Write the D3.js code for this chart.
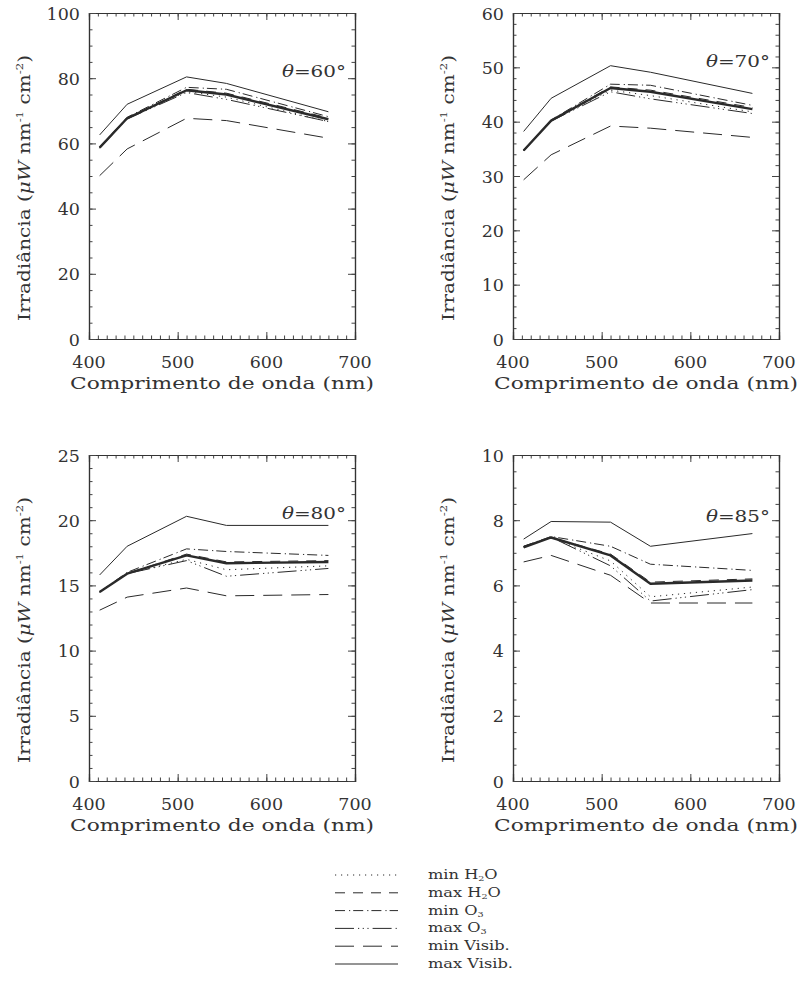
<!DOCTYPE html>
<html>
<head>
<meta charset="utf-8">
<script src="https://cdn.jsdelivr.net/npm/d3@7"></script>
<style>
  html, body { margin: 0; padding: 0; background: #fff; }
  svg { display: block; }
</style>
</head>
<body>
<svg id="chart" width="800" height="988" font-family="'DejaVu Serif', serif"></svg>
<script>
// Wavelengths (nm) and solar zenith angles
const wavelengths = [412, 443, 510, 555, 670];
const zenithAngles = [60, 70, 80, 85];

// Y axis extent and tick steps per panel
const yMaxima = [100, 60, 25, 10];
const yMajorSteps = [20, 10, 5, 2];
const yMinorSteps = [5, 2, 1, 0.5];
const xTickLabels = [400, 500, 600, 700];

// Irradiance (µW nm^-1 cm^-2), one row per zenith angle
const reference = [
  [58.7, 67.7, 76.3, 75.0, 67.4],
  [34.7, 40.2, 46.2, 45.5, 42.3],
  [14.5, 15.9, 17.3, 16.7, 16.8],
  [7.17, 7.47, 6.92, 6.05, 6.15]
];
const minH2O = [
  [58.7, 67.7, 75.9, 74.2, 66.7],
  [34.7, 40.2, 45.8, 44.8, 41.8],
  [14.5, 15.9, 17.0, 16.2, 16.5],
  [7.18, 7.46, 6.75, 5.65, 5.95]
];
const maxH2O = [
  [58.7, 67.7, 76.6, 75.4, 67.8],
  [34.7, 40.2, 46.4, 45.8, 42.6],
  [14.5, 15.9, 17.4, 16.8, 16.9],
  [7.18, 7.47, 6.96, 6.10, 6.20]
];
const minO3 = [
  [58.9, 68.0, 77.2, 76.6, 68.2],
  [34.8, 40.3, 46.9, 46.7, 43.0],
  [14.5, 16.0, 17.8, 17.6, 17.3],
  [7.20, 7.50, 7.20, 6.65, 6.46]
];
const maxO3 = [
  [58.5, 67.5, 75.6, 73.5, 66.7],
  [34.6, 40.1, 45.5, 44.2, 41.5],
  [14.5, 15.9, 16.9, 15.7, 16.3],
  [7.20, 7.48, 6.60, 5.52, 5.87]
];
const minVisib = [
  [50.1, 58.3, 67.7, 67.0, 61.6],
  [29.3, 33.9, 39.2, 38.8, 37.1],
  [13.1, 14.1, 14.8, 14.2, 14.3],
  [6.72, 6.92, 6.31, 5.46, 5.46]
];
const maxVisib = [
  [62.6, 72.0, 80.4, 78.4, 69.7],
  [38.2, 44.3, 50.3, 49.1, 45.2],
  [15.8, 18.0, 20.3, 19.6, 19.6],
  [7.42, 7.96, 7.94, 7.20, 7.59]
];

// Line styles for each scenario
const seriesDefs = [
  { key: "minH2O", values: minH2O, dash: "1.2,4.8", label: "min ", chem: ["H", "2", "O"] },
  { key: "maxH2O", values: maxH2O, dash: "10,8", label: "max ", chem: ["H", "2", "O"] },
  { key: "minO3", values: minO3, dash: "10,4,1.2,3", label: "min ", chem: ["O", "3", ""] },
  { key: "maxO3", values: maxO3, dash: "19,4,1.2,3.5,1.2,3.5,1.2,4", label: "max ", chem: ["O", "3", ""] },
  { key: "minVisib", values: minVisib, dash: "19,9", label: "min Visib.", chem: null },
  { key: "maxVisib", values: maxVisib, dash: null, label: "max Visib.", chem: null }
];

const svg = d3.select("#chart");
const ink = "#2a2a2a";
const textInk = "#333";
const serif = "'DejaVu Serif', serif";

const plotW = 266, plotH = 326;
const panelPos = [
  { x: 89, y: 13 }, { x: 513, y: 13 },
  { x: 89, y: 455 }, { x: 513, y: 455 }
];

const addText = (sel) => sel.append("text").attr("font-family", serif).attr("fill", textInk);
// Stretch a text horizontally by a factor, using its measured natural length
const widen = (t, factor) => {
  const n = t.node().getComputedTextLength();
  t.attr("textLength", n * factor).attr("lengthAdjust", "spacingAndGlyphs");
  return t;
};

zenithAngles.forEach((ang, i) => {
  const p = panelPos[i];
  const g = svg.append("g").attr("transform", `translate(${p.x},${p.y})`);
  const x = d3.scaleLinear().domain([400, 700]).range([0, plotW]);
  const y = d3.scaleLinear().domain([0, yMaxima[i]]).range([plotH, 0]);

  // Series lines
  const line = d3.line().x((d, k) => x(wavelengths[k])).y(d => y(d));
  seriesDefs.forEach(s => {
    g.append("path")
      .datum(s.values[i])
      .attr("d", line)
      .attr("fill", "none")
      .attr("stroke", ink)
      .attr("stroke-width", 1)
      .attr("stroke-dasharray", s.dash);
  });
  g.append("path")
    .datum(reference[i])
    .attr("d", line)
    .attr("fill", "none")
    .attr("stroke", ink)
    .attr("stroke-width", 2.4)
    .attr("stroke-linejoin", "round");

  // Frame with inward ticks on all four sides
  const xMinor = d3.range(400, 701, 10);
  const yMaj = d3.range(0, yMaxima[i] + 1e-9, yMajorSteps[i]);
  const yMin = d3.range(0, yMaxima[i] + 1e-9, yMinorSteps[i]);

  const axes = [
    [d3.axisBottom(x).tickValues(xMinor).tickSize(-3.5), `translate(0,${plotH})`],
    [d3.axisBottom(x).tickValues(xTickLabels).tickSize(-7), `translate(0,${plotH})`],
    [d3.axisTop(x).tickValues(xMinor).tickSize(-3.5), "translate(0,0)"],
    [d3.axisTop(x).tickValues(xTickLabels).tickSize(-7), "translate(0,0)"],
    [d3.axisLeft(y).tickValues(yMin).tickSize(-3.5), "translate(0,0)"],
    [d3.axisLeft(y).tickValues(yMaj).tickSize(-7), "translate(0,0)"],
    [d3.axisRight(y).tickValues(yMin).tickSize(-3.5), `translate(${plotW},0)`],
    [d3.axisRight(y).tickValues(yMaj).tickSize(-7), `translate(${plotW},0)`]
  ];
  axes.forEach(([ax, tr]) => {
    const a = g.append("g").attr("transform", tr).call(ax.tickFormat(""));
    a.selectAll("path.domain").attr("stroke", "#333").attr("stroke-width", 1.2);
    a.selectAll("line").attr("stroke", "#444").attr("stroke-width", 1);
  });

  // Tick labels
  xTickLabels.forEach(d => {
    addText(g).attr("x", x(d)).attr("y", plotH + 29)
      .attr("text-anchor", "middle").attr("font-size", 17.5).text(d);
  });
  yMaj.forEach(d => {
    addText(g).attr("x", -9).attr("y", y(d) + 6.5)
      .attr("text-anchor", "end").attr("font-size", 17.5).text(d);
  });

  // Axis titles
  addText(g)
    .attr("x", plotW / 2).attr("y", plotH + 50)
    .attr("text-anchor", "middle").attr("font-size", 17)
    .attr("textLength", 304).attr("lengthAdjust", "spacingAndGlyphs")
    .text("Comprimento de onda (nm)");

  const yt = addText(g)
    .attr("transform", `translate(${-59},${plotH / 2 + 12}) rotate(-90)`)
    .attr("text-anchor", "middle").attr("font-size", 17)
    .attr("textLength", 266).attr("lengthAdjust", "spacingAndGlyphs");
  yt.append("tspan").text("Irradiância (");
  yt.append("tspan").attr("font-style", "italic").text("μW");
  yt.append("tspan").text(" nm");
  yt.append("tspan").attr("font-size", 10).attr("dy", -7).text("-1");
  yt.append("tspan").attr("dy", 7).text(" cm");
  yt.append("tspan").attr("font-size", 10).attr("dy", -7).text("-2");
  yt.append("tspan").attr("dy", 7).text(")");

  // Zenith angle label
  const tl = addText(g)
    .attr("x", plotW - 9).attr("y", i === 1 ? 54 : (i === 3 ? 67 : 64))
    .attr("text-anchor", "end").attr("font-size", 17.5);
  tl.append("tspan").attr("font-style", "italic").text("θ");
  tl.append("tspan").text("=" + ang + "°");
  widen(tl, 1.14);
});

// Legend
const lg = svg.append("g");
seriesDefs.forEach((s, k) => {
  const yy = 875 + k * 17.8;
  lg.append("line")
    .attr("x1", 335).attr("x2", 398).attr("y1", yy).attr("y2", yy)
    .attr("stroke", ink).attr("stroke-width", 1)
    .attr("stroke-dasharray", s.dash);
  const t = addText(lg).attr("x", 428).attr("y", yy + 4).attr("font-size", 13.5);
  if (s.chem) {
    t.append("tspan").text(s.label + s.chem[0]);
    t.append("tspan").attr("font-size", 8).attr("dy", 2).text(s.chem[1]);
    t.append("tspan").attr("dy", -2).text(s.chem[2]);
  } else {
    t.text(s.label);
  }
  widen(t, 1.2);
});
</script>
</body>
</html>
